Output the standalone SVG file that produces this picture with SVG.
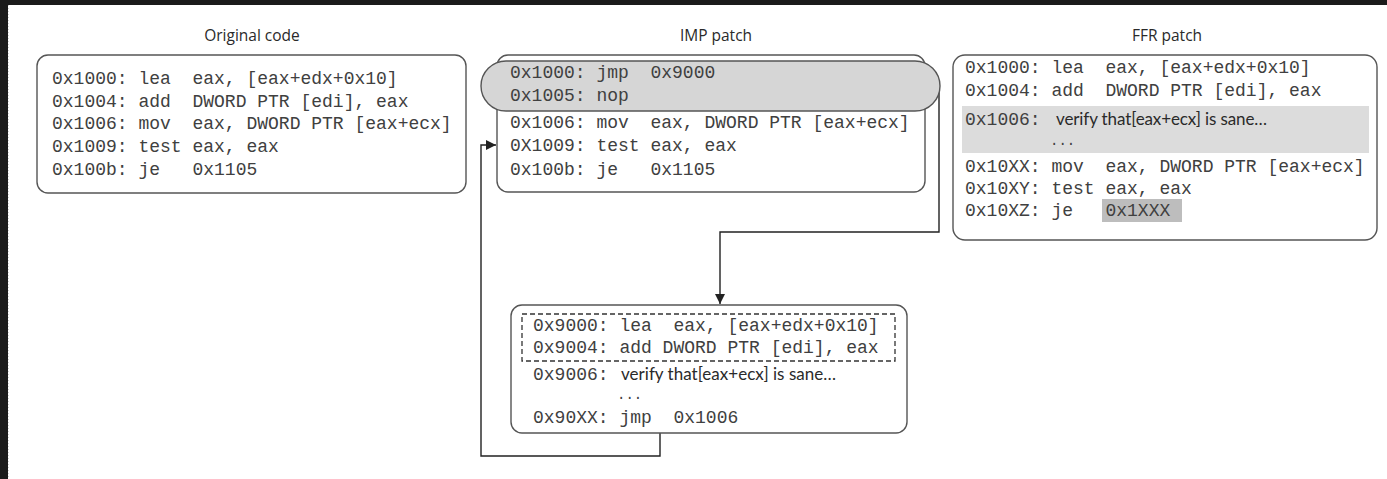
<svg xmlns="http://www.w3.org/2000/svg" width="1387" height="479" viewBox="0 0 1387 479">
<defs>
<style>
.bg{fill:#ffffff}
.box{fill:#ffffff;stroke:#555555;stroke-width:1.4}
.title{font-family:"Open Sans","Liberation Sans",sans-serif;font-size:15.5px;fill:#2a2a2a;text-anchor:middle}
.code{font-family:"Liberation Mono",monospace;font-size:18px;fill:#404040;white-space:pre}
.dots{font-family:"Liberation Mono",monospace;font-size:14px;fill:#404040}
.prose{font-family:"Lato","Open Sans",sans-serif;font-size:17px;fill:#2a2a2a}
.conn{fill:none;stroke:#222;stroke-width:1.4}
</style>
<marker id="arr" viewBox="0 0 10 10" refX="10" refY="5" markerWidth="10" markerHeight="10" markerUnits="userSpaceOnUse" orient="auto">
<path d="M0,0 L10,5 L0,10 z" fill="#222"/>
</marker>
</defs>
<rect class="bg" x="0" y="0" width="1387" height="479"/>
<rect x="0" y="0" width="1387" height="5" fill="#1b1b1b"/>
<rect x="0" y="0" width="8" height="479" fill="#1b1b1b"/>
<line x1="8.5" y1="5" x2="8.5" y2="479" stroke="#cfcfcf" stroke-width="1" stroke-dasharray="1 2"/>

<text class="title" x="252" y="41">Original code</text>
<text class="title" x="716" y="41">IMP patch</text>
<text class="title" x="1167" y="41">FFR patch</text>

<g id="connectors">
<path class="conn" d="M660,433 V456 H481 V145 H496" marker-end="url(#arr)"/>
<path class="conn" d="M939,90 V232 H720 V304" marker-end="url(#arr)"/>
</g>

<g id="original">
<rect class="box" x="37" y="55" width="429" height="138" rx="11"/>
<text class="code" x="52" y="84" xml:space="preserve">0x1000: lea  eax, [eax+edx+0x10]</text>
<text class="code" x="52" y="107" xml:space="preserve">0x1004: add  DWORD PTR [edi], eax</text>
<text class="code" x="52" y="129" xml:space="preserve">0x1006: mov  eax, DWORD PTR [eax+ecx]</text>
<text class="code" x="52" y="152" xml:space="preserve">0x1009: test eax, eax</text>
<text class="code" x="52" y="175" xml:space="preserve">0x100b: je   0x1105</text>
</g>

<g id="imp">
<rect class="box" x="497" y="55" width="428" height="137" rx="11"/>
<rect x="481" y="61" width="459" height="50" rx="25" fill="#d6d6d6" stroke="#555555" stroke-width="1.4"/>
<text class="code" x="510" y="78" xml:space="preserve">0x1000: jmp  0x9000</text>
<text class="code" x="510" y="101" xml:space="preserve">0x1005: nop</text>
<text class="code" x="510" y="128" xml:space="preserve">0x1006: mov  eax, DWORD PTR [eax+ecx]</text>
<text class="code" x="510" y="151" xml:space="preserve">0X1009: test eax, eax</text>
<text class="code" x="510" y="175" xml:space="preserve">0x100b: je   0x1105</text>
</g>

<g id="ffr">
<rect class="box" x="953" y="55" width="424" height="185" rx="12"/>
<rect x="962" y="106" width="407" height="47" fill="#dcdcdc"/>
<rect x="1102" y="199" width="80" height="23" fill="#bdbdbd"/>
<text class="code" x="965" y="73" xml:space="preserve">0x1000: lea  eax, [eax+edx+0x10]</text>
<text class="code" x="965" y="96" xml:space="preserve">0x1004: add  DWORD PTR [edi], eax</text>
<text class="code" x="965" y="125">0x1006:</text>
<text class="prose" x="1056" y="125" textLength="211" lengthAdjust="spacing">verify that[eax+ecx] is sane…</text>
<text class="dots" x="1050" y="145">...</text>
<text class="code" x="965" y="172" xml:space="preserve">0x10XX: mov  eax, DWORD PTR [eax+ecx]</text>
<text class="code" x="965" y="194" xml:space="preserve">0x10XY: test eax, eax</text>
<text class="code" x="965" y="216" xml:space="preserve">0x10XZ: je   0x1XXX</text>
</g>

<g id="trampoline">
<rect class="box" x="511" y="305" width="396" height="128" rx="11"/>
<rect x="522" y="314" width="373" height="47" fill="none" stroke="#333" stroke-width="1.3" stroke-dasharray="5 3"/>
<text class="code" x="533" y="331" xml:space="preserve">0x9000: lea  eax, [eax+edx+0x10]</text>
<text class="code" x="533" y="353" xml:space="preserve">0x9004: add DWORD PTR [edi], eax</text>
<text class="code" x="533" y="380">0x9006:</text>
<text class="prose" x="621" y="380" textLength="215" lengthAdjust="spacing">verify that[eax+ecx] is sane…</text>
<text class="dots" x="617" y="399">...</text>
<text class="code" x="533" y="423" xml:space="preserve">0x90XX: jmp  0x1006</text>
</g>
</svg>
